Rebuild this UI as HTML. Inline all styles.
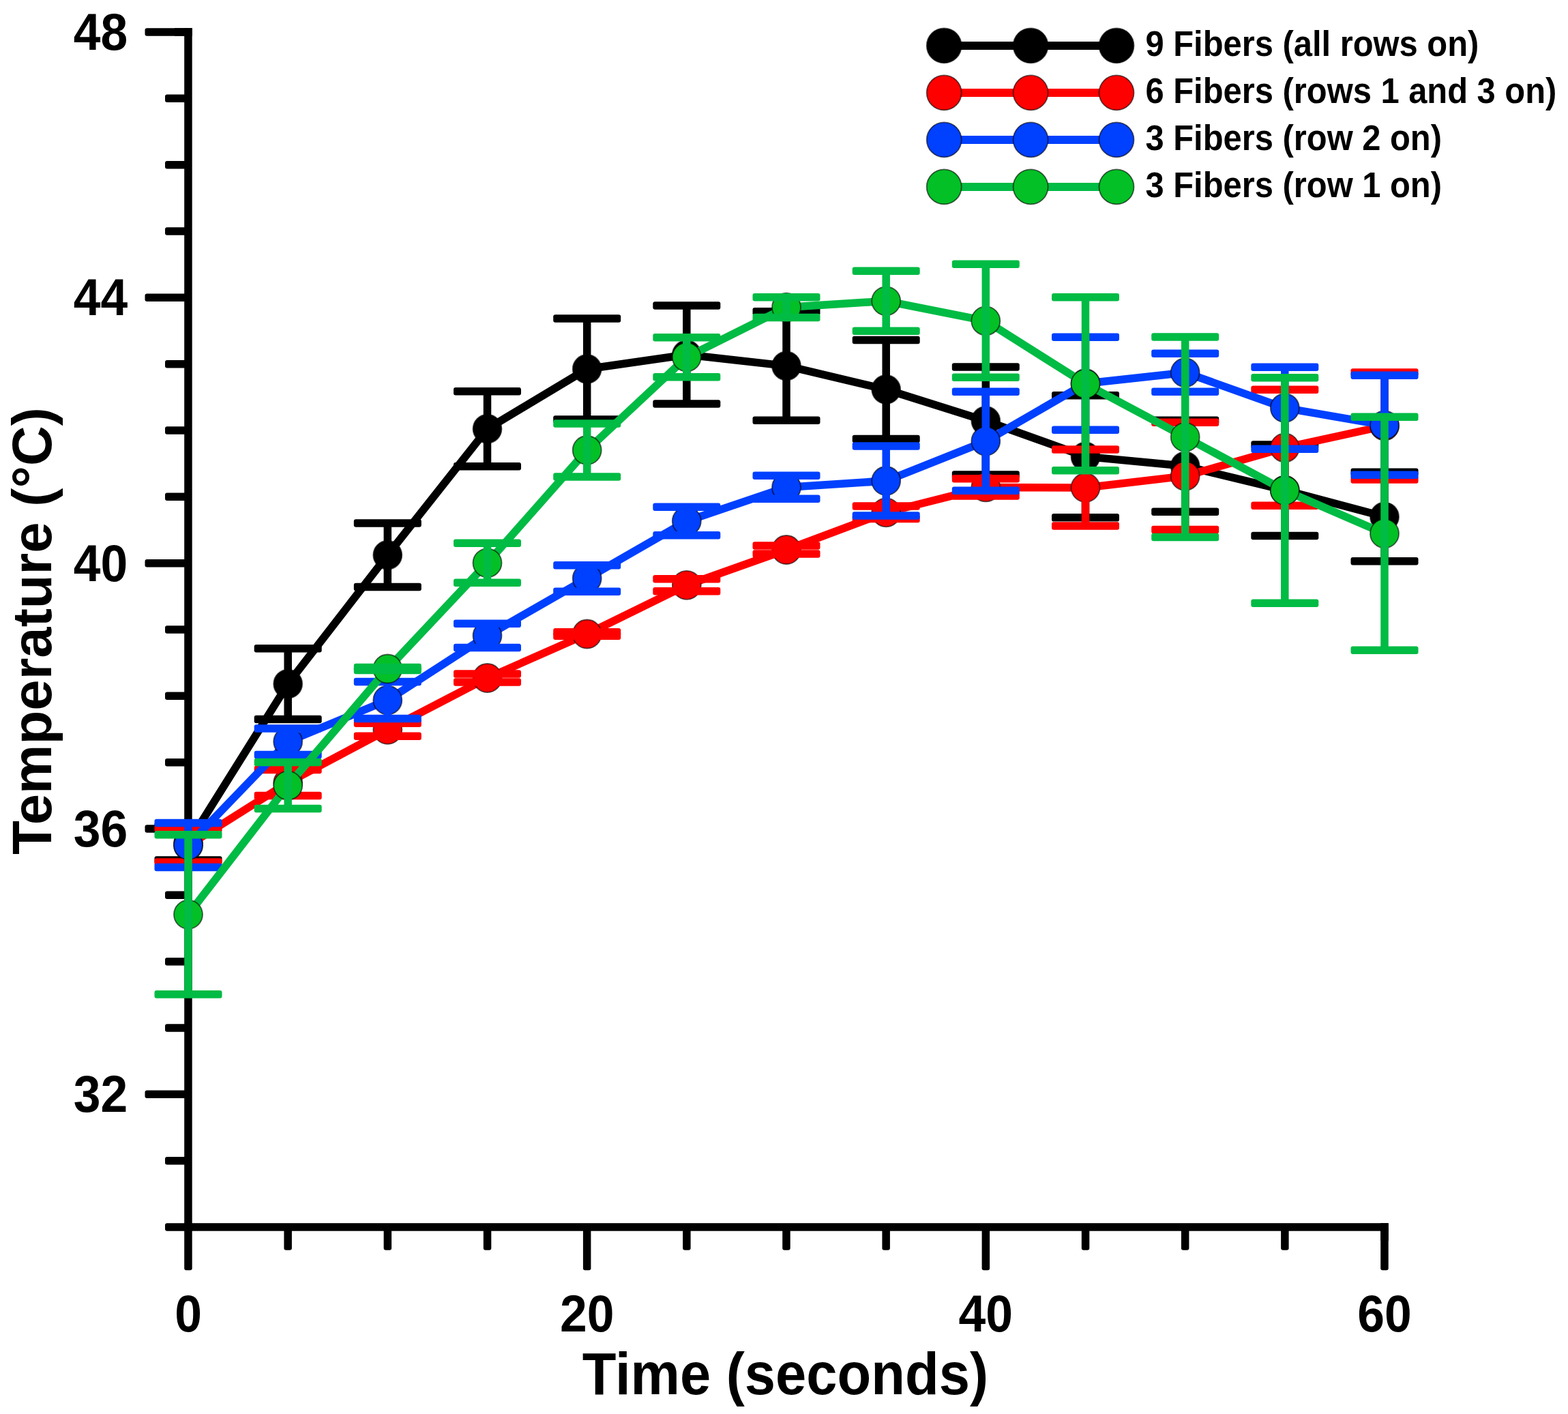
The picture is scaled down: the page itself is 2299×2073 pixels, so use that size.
<!DOCTYPE html>
<html><head><meta charset="utf-8"><title>Temperature vs Time</title>
<style>html,body{margin:0;padding:0;background:#fff;overflow:hidden;}svg{display:block;}text{font-family:"Liberation Sans",Arial,sans-serif;font-weight:bold;fill:#000;}</style>
</head><body>
<svg width="2299" height="2073" viewBox="0 0 2299 2073">
<rect width="2299" height="2073" fill="#fff"/>
<g fill="#000"><rect x="242" y="1793.2" width="34" height="11.5" rx="3"/><rect x="242" y="1695.9" width="34" height="11.5" rx="3"/><rect x="212.5" y="1598.6" width="63.5" height="11.5" rx="3"/><rect x="242" y="1501.2" width="34" height="11.5" rx="3"/><rect x="242" y="1403.9" width="34" height="11.5" rx="3"/><rect x="242" y="1306.6" width="34" height="11.5" rx="3"/><rect x="212.5" y="1209.2" width="63.5" height="11.5" rx="3"/><rect x="242" y="1111.9" width="34" height="11.5" rx="3"/><rect x="242" y="1014.6" width="34" height="11.5" rx="3"/><rect x="242" y="917.2" width="34" height="11.5" rx="3"/><rect x="212.5" y="819.9" width="63.5" height="11.5" rx="3"/><rect x="242" y="722.6" width="34" height="11.5" rx="3"/><rect x="242" y="625.2" width="34" height="11.5" rx="3"/><rect x="242" y="527.9" width="34" height="11.5" rx="3"/><rect x="212.5" y="430.6" width="63.5" height="11.5" rx="3"/><rect x="242" y="333.2" width="34" height="11.5" rx="3"/><rect x="242" y="235.9" width="34" height="11.5" rx="3"/><rect x="242" y="138.6" width="34" height="11.5" rx="3"/><rect x="212.5" y="41.2" width="63.5" height="11.5" rx="3"/><rect x="270.2" y="1799" width="11.5" height="63.3" rx="3"/><rect x="416.4" y="1799" width="11.5" height="33.8" rx="3"/><rect x="562.6" y="1799" width="11.5" height="33.8" rx="3"/><rect x="708.8" y="1799" width="11.5" height="33.8" rx="3"/><rect x="854.9" y="1799" width="11.5" height="63.3" rx="3"/><rect x="1001.1" y="1799" width="11.5" height="33.8" rx="3"/><rect x="1147.2" y="1799" width="11.5" height="33.8" rx="3"/><rect x="1293.4" y="1799" width="11.5" height="33.8" rx="3"/><rect x="1439.6" y="1799" width="11.5" height="63.3" rx="3"/><rect x="1585.8" y="1799" width="11.5" height="33.8" rx="3"/><rect x="1731.9" y="1799" width="11.5" height="33.8" rx="3"/><rect x="1878.1" y="1799" width="11.5" height="33.8" rx="3"/><rect x="2024.2" y="1799" width="11.5" height="63.3" rx="3"/><rect x="270.2" y="41.2" width="11.5" height="1763.5" rx="0"/><rect x="270.2" y="1793.2" width="1765.5" height="11.5" rx="0"/><rect x="256" y="41.2" width="25.8" height="11.5" rx="0"/><rect x="2024.2" y="1793.2" width="11.5" height="25.8" rx="0"/></g>
<text transform="translate(187.2 72.8) scale(0.94 1)" font-size="76" text-anchor="end">48</text>
<text transform="translate(187.2 462.1) scale(0.94 1)" font-size="76" text-anchor="end">44</text>
<text transform="translate(187.2 851.5) scale(0.94 1)" font-size="76" text-anchor="end">40</text>
<text transform="translate(187.2 1240.8) scale(0.94 1)" font-size="76" text-anchor="end">36</text>
<text transform="translate(187.2 1630.1) scale(0.94 1)" font-size="76" text-anchor="end">32</text>
<text transform="translate(276 1952) scale(0.94 1)" font-size="76" text-anchor="middle">0</text>
<text transform="translate(860.7 1952) scale(0.94 1)" font-size="76" text-anchor="middle">20</text>
<text transform="translate(1445.3 1952) scale(0.94 1)" font-size="76" text-anchor="middle">40</text>
<text transform="translate(2030 1952) scale(0.94 1)" font-size="76" text-anchor="middle">60</text>
<text transform="translate(1151.4 2043.5) scale(0.944 1)" font-size="86.2" text-anchor="middle">Time (seconds)</text>
<text transform="translate(75.3 925) rotate(-90) scale(0.989 1)" font-size="82.4" text-anchor="middle">Temperature (°C)</text>
<polyline fill="none" stroke="#000000" stroke-width="11.5" stroke-linejoin="round" points="276,1236 422.2,1002.6 568.3,813.7 714.5,628.7 860.7,541 1006.8,520 1153,536.4 1299.2,571 1445.3,617 1591.5,669.4 1737.7,683.3 1883.8,718.7 2030,757.5"/>
<g fill="#000000" stroke="#000" stroke-opacity="0.6" stroke-width="1.8">
<circle cx="276" cy="1236" r="21"/>
<circle cx="422.2" cy="1002.6" r="21"/>
<circle cx="568.3" cy="813.7" r="21"/>
<circle cx="714.5" cy="628.7" r="21"/>
<circle cx="860.7" cy="541" r="21"/>
<circle cx="1006.8" cy="520" r="21"/>
<circle cx="1153" cy="536.4" r="21"/>
<circle cx="1299.2" cy="571" r="21"/>
<circle cx="1445.3" cy="617" r="21"/>
<circle cx="1591.5" cy="669.4" r="21"/>
<circle cx="1737.7" cy="683.3" r="21"/>
<circle cx="1883.8" cy="718.7" r="21"/>
<circle cx="2030" cy="757.5" r="21"/>
</g>
<g fill="#000000"><path fill="none" stroke="#000000" stroke-width="11.5" d="M276 1211V1261M422.2 950.7V1054.5M568.3 767V860.4M714.5 573.8V683.6M860.7 467V615M1006.8 448V592M1153 456.7V616.1M1299.2 498.5V643.5M1445.3 538V696M1591.5 579.9V758.9M1737.7 616.3V750.3M1883.8 652V785.4M2030 692.1V822.9"/><rect x="226.5" y="1205.2" width="99" height="11.5" rx="3"/><rect x="226.5" y="1255.2" width="99" height="11.5" rx="3"/><rect x="372.7" y="945" width="99" height="11.5" rx="3"/><rect x="372.7" y="1048.8" width="99" height="11.5" rx="3"/><rect x="518.8" y="761.2" width="99" height="11.5" rx="3"/><rect x="518.8" y="854.7" width="99" height="11.5" rx="3"/><rect x="665" y="568.1" width="99" height="11.5" rx="3"/><rect x="665" y="677.9" width="99" height="11.5" rx="3"/><rect x="811.2" y="461.2" width="99" height="11.5" rx="3"/><rect x="811.2" y="609.2" width="99" height="11.5" rx="3"/><rect x="957.3" y="442.2" width="99" height="11.5" rx="3"/><rect x="957.3" y="586.2" width="99" height="11.5" rx="3"/><rect x="1103.5" y="450.9" width="99" height="11.5" rx="3"/><rect x="1103.5" y="610.4" width="99" height="11.5" rx="3"/><rect x="1249.7" y="492.8" width="99" height="11.5" rx="3"/><rect x="1249.7" y="637.8" width="99" height="11.5" rx="3"/><rect x="1395.8" y="532.2" width="99" height="11.5" rx="3"/><rect x="1395.8" y="690.2" width="99" height="11.5" rx="3"/><rect x="1542" y="574.1" width="99" height="11.5" rx="3"/><rect x="1542" y="753.1" width="99" height="11.5" rx="3"/><rect x="1688.2" y="610.5" width="99" height="11.5" rx="3"/><rect x="1688.2" y="744.5" width="99" height="11.5" rx="3"/><rect x="1834.3" y="646.2" width="99" height="11.5" rx="3"/><rect x="1834.3" y="779.7" width="99" height="11.5" rx="3"/><rect x="1980.5" y="686.4" width="99" height="11.5" rx="3"/><rect x="1980.5" y="817.1" width="99" height="11.5" rx="3"/></g>
<polyline fill="none" stroke="#ff0000" stroke-width="11.5" stroke-linejoin="round" points="276,1239.5 422.2,1147.4 568.3,1069.8 714.5,994 860.7,929.5 1006.8,857.8 1153,806 1299.2,751.3 1445.3,714.4 1591.5,715 1737.7,697.9 1883.8,656.4 2030,624.5"/>
<g fill="#ff0000" stroke="#000" stroke-opacity="0.6" stroke-width="1.8">
<circle cx="276" cy="1239.5" r="21"/>
<circle cx="422.2" cy="1147.4" r="21"/>
<circle cx="568.3" cy="1069.8" r="21"/>
<circle cx="714.5" cy="994" r="21"/>
<circle cx="860.7" cy="929.5" r="21"/>
<circle cx="1006.8" cy="857.8" r="21"/>
<circle cx="1153" cy="806" r="21"/>
<circle cx="1299.2" cy="751.3" r="21"/>
<circle cx="1445.3" cy="714.4" r="21"/>
<circle cx="1591.5" cy="715" r="21"/>
<circle cx="1737.7" cy="697.9" r="21"/>
<circle cx="1883.8" cy="656.4" r="21"/>
<circle cx="2030" cy="624.5" r="21"/>
</g>
<g fill="#ff0000"><path fill="none" stroke="#ff0000" stroke-width="11.5" d="M276 1215V1264M422.2 1128.4V1166.4M568.3 1060.4V1079.2M714.5 988V1000M860.7 926.8V932.2M1006.8 848.8V866.8M1153 800V812M1299.2 742V760.6M1445.3 701.8V727M1591.5 659V771M1737.7 619.3V776.5M1883.8 571.4V741.4M2030 546V703"/><rect x="226.5" y="1209.2" width="99" height="11.5" rx="3"/><rect x="226.5" y="1258.2" width="99" height="11.5" rx="3"/><rect x="372.7" y="1122.7" width="99" height="11.5" rx="3"/><rect x="372.7" y="1160.7" width="99" height="11.5" rx="3"/><rect x="518.8" y="1054.6" width="99" height="11.5" rx="3"/><rect x="518.8" y="1073.5" width="99" height="11.5" rx="3"/><rect x="665" y="982.2" width="99" height="11.5" rx="3"/><rect x="665" y="994.2" width="99" height="11.5" rx="3"/><rect x="811.2" y="921" width="99" height="11.5" rx="3"/><rect x="811.2" y="926.5" width="99" height="11.5" rx="3"/><rect x="957.3" y="843" width="99" height="11.5" rx="3"/><rect x="957.3" y="861" width="99" height="11.5" rx="3"/><rect x="1103.5" y="794.2" width="99" height="11.5" rx="3"/><rect x="1103.5" y="806.2" width="99" height="11.5" rx="3"/><rect x="1249.7" y="736.2" width="99" height="11.5" rx="3"/><rect x="1249.7" y="754.8" width="99" height="11.5" rx="3"/><rect x="1395.8" y="696" width="99" height="11.5" rx="3"/><rect x="1395.8" y="721.2" width="99" height="11.5" rx="3"/><rect x="1542" y="653.2" width="99" height="11.5" rx="3"/><rect x="1542" y="765.2" width="99" height="11.5" rx="3"/><rect x="1688.2" y="613.5" width="99" height="11.5" rx="3"/><rect x="1688.2" y="770.8" width="99" height="11.5" rx="3"/><rect x="1834.3" y="565.6" width="99" height="11.5" rx="3"/><rect x="1834.3" y="735.6" width="99" height="11.5" rx="3"/><rect x="1980.5" y="540.2" width="99" height="11.5" rx="3"/><rect x="1980.5" y="697.2" width="99" height="11.5" rx="3"/></g>
<polyline fill="none" stroke="#0040ff" stroke-width="11.5" stroke-linejoin="round" points="276,1239 422.2,1087.3 568.3,1026.5 714.5,931.9 860.7,848 1006.8,764 1153,714.4 1299.2,705 1445.3,646.8 1591.5,562.2 1737.7,546.2 1883.8,598.1 2030,623.4"/>
<g fill="#0040ff" stroke="#000" stroke-opacity="0.6" stroke-width="1.8">
<circle cx="276" cy="1239" r="21"/>
<circle cx="422.2" cy="1087.3" r="21"/>
<circle cx="568.3" cy="1026.5" r="21"/>
<circle cx="714.5" cy="931.9" r="21"/>
<circle cx="860.7" cy="848" r="21"/>
<circle cx="1006.8" cy="764" r="21"/>
<circle cx="1153" cy="714.4" r="21"/>
<circle cx="1299.2" cy="705" r="21"/>
<circle cx="1445.3" cy="646.8" r="21"/>
<circle cx="1591.5" cy="562.2" r="21"/>
<circle cx="1737.7" cy="546.2" r="21"/>
<circle cx="1883.8" cy="598.1" r="21"/>
<circle cx="2030" cy="623.4" r="21"/>
</g>
<g fill="#0040ff"><path fill="none" stroke="#0040ff" stroke-width="11.5" d="M276 1206.5V1271.5M422.2 1068.1V1106.5M568.3 999.5V1053.5M714.5 914.3V949.5M860.7 828.8V867.2M1006.8 743.2V784.8M1153 697.4V731.4M1299.2 654V756M1445.3 574.3V719.3M1591.5 494.2V630.2M1737.7 518.2V574.2M1883.8 538.1V658.1M2030 550.4V696.4"/><rect x="226.5" y="1200.8" width="99" height="11.5" rx="3"/><rect x="226.5" y="1265.8" width="99" height="11.5" rx="3"/><rect x="372.7" y="1062.3" width="99" height="11.5" rx="3"/><rect x="372.7" y="1100.8" width="99" height="11.5" rx="3"/><rect x="518.8" y="993.8" width="99" height="11.5" rx="3"/><rect x="518.8" y="1047.8" width="99" height="11.5" rx="3"/><rect x="665" y="908.5" width="99" height="11.5" rx="3"/><rect x="665" y="943.8" width="99" height="11.5" rx="3"/><rect x="811.2" y="823" width="99" height="11.5" rx="3"/><rect x="811.2" y="861.5" width="99" height="11.5" rx="3"/><rect x="957.3" y="737.5" width="99" height="11.5" rx="3"/><rect x="957.3" y="779" width="99" height="11.5" rx="3"/><rect x="1103.5" y="691.6" width="99" height="11.5" rx="3"/><rect x="1103.5" y="725.6" width="99" height="11.5" rx="3"/><rect x="1249.7" y="648.2" width="99" height="11.5" rx="3"/><rect x="1249.7" y="750.2" width="99" height="11.5" rx="3"/><rect x="1395.8" y="568.5" width="99" height="11.5" rx="3"/><rect x="1395.8" y="713.5" width="99" height="11.5" rx="3"/><rect x="1542" y="488.5" width="99" height="11.5" rx="3"/><rect x="1542" y="624.5" width="99" height="11.5" rx="3"/><rect x="1688.2" y="512.5" width="99" height="11.5" rx="3"/><rect x="1688.2" y="568.5" width="99" height="11.5" rx="3"/><rect x="1834.3" y="532.4" width="99" height="11.5" rx="3"/><rect x="1834.3" y="652.4" width="99" height="11.5" rx="3"/><rect x="1980.5" y="544.6" width="99" height="11.5" rx="3"/><rect x="1980.5" y="690.6" width="99" height="11.5" rx="3"/></g>
<polyline fill="none" stroke="#00bb44" stroke-width="11.5" stroke-linejoin="round" points="276,1340.7 422.2,1151.6 568.3,980.5 714.5,825.3 860.7,660 1006.8,523.6 1153,450.6 1299.2,441.3 1445.3,470.4 1591.5,562.7 1737.7,640.8 1883.8,719 2030,782.2"/>
<g fill="#02c026" stroke="#000" stroke-opacity="0.6" stroke-width="1.8">
<circle cx="276" cy="1340.7" r="21"/>
<circle cx="422.2" cy="1151.6" r="21"/>
<circle cx="568.3" cy="980.5" r="21"/>
<circle cx="714.5" cy="825.3" r="21"/>
<circle cx="860.7" cy="660" r="21"/>
<circle cx="1006.8" cy="523.6" r="21"/>
<circle cx="1153" cy="450.6" r="21"/>
<circle cx="1299.2" cy="441.3" r="21"/>
<circle cx="1445.3" cy="470.4" r="21"/>
<circle cx="1591.5" cy="562.7" r="21"/>
<circle cx="1737.7" cy="640.8" r="21"/>
<circle cx="1883.8" cy="719" r="21"/>
<circle cx="2030" cy="782.2" r="21"/>
</g>
<g fill="#00bb44"><path fill="none" stroke="#00bb44" stroke-width="11.5" d="M276 1223.7V1457.7M422.2 1117.6V1185.6M568.3 978.5V982.5M714.5 796.3V854.3M860.7 621V699M1006.8 494.6V552.6M1153 435.8V465.4M1299.2 397.3V485.3M1445.3 387.4V553.4M1591.5 435.7V689.7M1737.7 494.1V787.5M1883.8 553.6V884.4M2030 611.2V953.2"/><rect x="226.5" y="1218" width="99" height="11.5" rx="3"/><rect x="226.5" y="1452" width="99" height="11.5" rx="3"/><rect x="372.7" y="1111.8" width="99" height="11.5" rx="3"/><rect x="372.7" y="1179.8" width="99" height="11.5" rx="3"/><rect x="518.8" y="972.8" width="99" height="11.5" rx="3"/><rect x="518.8" y="976.8" width="99" height="11.5" rx="3"/><rect x="665" y="790.5" width="99" height="11.5" rx="3"/><rect x="665" y="848.5" width="99" height="11.5" rx="3"/><rect x="811.2" y="615.2" width="99" height="11.5" rx="3"/><rect x="811.2" y="693.2" width="99" height="11.5" rx="3"/><rect x="957.3" y="488.9" width="99" height="11.5" rx="3"/><rect x="957.3" y="546.9" width="99" height="11.5" rx="3"/><rect x="1103.5" y="430.1" width="99" height="11.5" rx="3"/><rect x="1103.5" y="459.7" width="99" height="11.5" rx="3"/><rect x="1249.7" y="391.6" width="99" height="11.5" rx="3"/><rect x="1249.7" y="479.6" width="99" height="11.5" rx="3"/><rect x="1395.8" y="381.6" width="99" height="11.5" rx="3"/><rect x="1395.8" y="547.6" width="99" height="11.5" rx="3"/><rect x="1542" y="430" width="99" height="11.5" rx="3"/><rect x="1542" y="684" width="99" height="11.5" rx="3"/><rect x="1688.2" y="488.3" width="99" height="11.5" rx="3"/><rect x="1688.2" y="781.8" width="99" height="11.5" rx="3"/><rect x="1834.3" y="547.9" width="99" height="11.5" rx="3"/><rect x="1834.3" y="878.6" width="99" height="11.5" rx="3"/><rect x="1980.5" y="605.5" width="99" height="11.5" rx="3"/><rect x="1980.5" y="947.5" width="99" height="11.5" rx="3"/></g>
<line x1="1384" y1="66.9" x2="1637" y2="66.9" stroke="#000000" stroke-width="12"/>
<circle cx="1384.2" cy="66.9" r="25.5" fill="#000000" stroke="#000" stroke-opacity="0.6" stroke-width="1.8"/>
<circle cx="1511.1" cy="66.9" r="25.5" fill="#000000" stroke="#000" stroke-opacity="0.6" stroke-width="1.8"/>
<circle cx="1637" cy="66.9" r="25.5" fill="#000000" stroke="#000" stroke-opacity="0.6" stroke-width="1.8"/>
<text transform="translate(1679.5 82.2) scale(0.94 1)" font-size="52">9 Fibers (all rows on)</text>
<line x1="1384" y1="135.9" x2="1637" y2="135.9" stroke="#ff0000" stroke-width="12"/>
<circle cx="1384.2" cy="135.9" r="25.5" fill="#ff0000" stroke="#000" stroke-opacity="0.6" stroke-width="1.8"/>
<circle cx="1511.1" cy="135.9" r="25.5" fill="#ff0000" stroke="#000" stroke-opacity="0.6" stroke-width="1.8"/>
<circle cx="1637" cy="135.9" r="25.5" fill="#ff0000" stroke="#000" stroke-opacity="0.6" stroke-width="1.8"/>
<text transform="translate(1679.5 151.2) scale(0.94 1)" font-size="52">6 Fibers (rows 1 and 3 on)</text>
<line x1="1384" y1="204.9" x2="1637" y2="204.9" stroke="#0040ff" stroke-width="12"/>
<circle cx="1384.2" cy="204.9" r="25.5" fill="#0040ff" stroke="#000" stroke-opacity="0.6" stroke-width="1.8"/>
<circle cx="1511.1" cy="204.9" r="25.5" fill="#0040ff" stroke="#000" stroke-opacity="0.6" stroke-width="1.8"/>
<circle cx="1637" cy="204.9" r="25.5" fill="#0040ff" stroke="#000" stroke-opacity="0.6" stroke-width="1.8"/>
<text transform="translate(1679.5 220.2) scale(0.94 1)" font-size="52">3 Fibers (row 2 on)</text>
<line x1="1384" y1="273.9" x2="1637" y2="273.9" stroke="#00bb44" stroke-width="12"/>
<circle cx="1384.2" cy="273.9" r="25.5" fill="#02c026" stroke="#000" stroke-opacity="0.6" stroke-width="1.8"/>
<circle cx="1511.1" cy="273.9" r="25.5" fill="#02c026" stroke="#000" stroke-opacity="0.6" stroke-width="1.8"/>
<circle cx="1637" cy="273.9" r="25.5" fill="#02c026" stroke="#000" stroke-opacity="0.6" stroke-width="1.8"/>
<text transform="translate(1679.5 289.2) scale(0.94 1)" font-size="52">3 Fibers (row 1 on)</text>
</svg></body></html>
